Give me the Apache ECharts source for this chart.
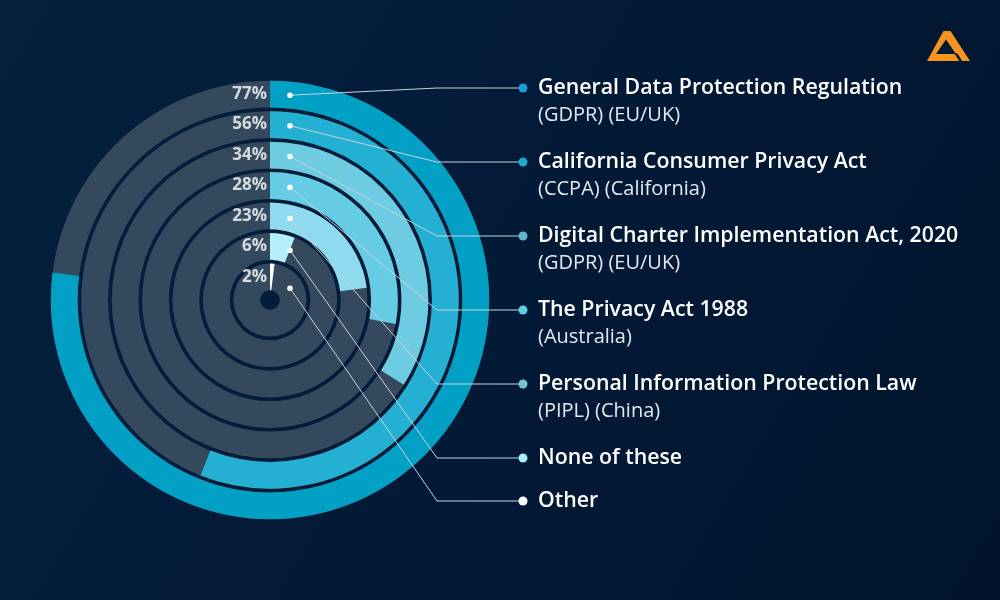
<!DOCTYPE html>
<html><head><meta charset="utf-8">
<script src="https://cdn.jsdelivr.net/npm/echarts@6/dist/echarts.min.js"></script>
<style>html,body{margin:0;padding:0;background:#041a33}#c{width:1000px;height:600px}</style>
</head><body><div id="c"></div>
<script>
// rings, innermost first
const categories = ['Other', 'None of these', 'Personal Information Protection Law', 'The Privacy Act 1988', 'Digital Charter Implementation Act, 2020', 'California Consumer Privacy Act', 'General Data Protection Regulation'];
const subtitles = ['', '', '(PIPL) (China)', '(Australia)', '(GDPR) (EU/UK)', '(CCPA) (California)', '(GDPR) (EU/UK)'];
const values = [2, 6, 23, 28, 34, 56, 77];
const barColors = ['#ffffff', '#b6eefa', '#8fdaee', '#66cce5', '#6dcbe2', '#23b0d2', '#03a0c6'];
const dotColors = ['#ffffff', '#a9ecfa', '#74c2d6', '#5ccde6', '#5fb5cc', '#20a8cf', '#1a9ee0'];

const FONT = 'Open Sans';
const chart = echarts.init(document.getElementById('c'), null, {renderer: 'canvas'});
const CX = 270, CY = 300;
chart.setOption({
  animation: false,
  backgroundColor: {type: 'linear', x: 0, y: 0, x2: 1, y2: 1,
    colorStops: [{offset: 0, color: '#04213e'}, {offset: 0.5, color: '#031a37'}, {offset: 1, color: '#01142c'}]},
  polar: {center: [CX, CY], radius: [8, 221]},
  angleAxis: {type: 'value', min: 0, max: 100, startAngle: 90, clockwise: true, show: false},
  radiusAxis: {type: 'category', data: categories, show: false},
  series: [
    {
      type: 'bar', coordinateSystem: 'polar', barCategoryGap: '12%',
      data: values.map((v, i) => ({value: v, itemStyle: {color: barColors[i]}})),
      showBackground: true, backgroundStyle: {color: '#34495e'}, z: 2
    },
    {
      type: 'scatter', coordinateSystem: 'polar', symbolSize: 0,
      data: values.map((v, i) => [i, 0]),
      label: {show: true, position: 'left', distance: 3, color: '#ffffff', fontSize: 17, fontWeight: 'bold', fontFamily: FONT,
        formatter: p => values[p.dataIndex] + '%'},
      z: 5
    }
  ]
});

// annotations: leader lines + legend text
const g = [];
let ly = 88;
const legendYs = [];
for (let i = categories.length - 1; i >= 0; i--) {
  legendYs[i] = ly;
  ly += subtitles[i] ? 74 : 43;
}
for (let i = 0; i < categories.length; i++) {
  const top = chart.convertToPixel({seriesIndex: 1}, [i, 0]);
  const r = CY - top[1];
  const dx = 20;
  const dy = Math.sqrt(Math.max(r * r - dx * dx, 0));
  const px = CX + dx, py = CY - dy;
  const y = legendYs[i];
  g.push({type: 'polyline', z: 20, shape: {points: [[px, py], [437, y], [519, y]]},
    style: {stroke: '#c9d2db', lineWidth: 1, fill: null}});
  g.push({type: 'circle', z: 21, shape: {cx: px, cy: py, r: 2.8}, style: {fill: '#ffffff'}});
  g.push({type: 'circle', z: 21, shape: {cx: 523, cy: y, r: 4.5}, style: {fill: dotColors[i]}});
  g.push({type: 'text', z: 21, x: 538, y: y, style: {text: categories[i], fill: '#ffffff', font: '600 21.3px "' + FONT + '"', textVerticalAlign: 'middle'}});
  if (subtitles[i]) {
    g.push({type: 'text', z: 21, x: 538, y: y + 27, style: {text: subtitles[i], fill: '#e4e9ef', font: '400 20px "' + FONT + '"', textVerticalAlign: 'middle'}});
  }
}
// logo
const ORANGE = '#f7941d', LOGO_BG = '#031a36';
g.push({type: 'polygon', z: 20, shape: {points: [[943.5, 31], [950.5, 31], [970, 61], [927, 61]]}, style: {fill: ORANGE}});
g.push({type: 'polygon', z: 21, shape: {points: [[946, 39.5], [956, 54], [936, 54]]}, style: {fill: LOGO_BG}});
g.push({type: 'polygon', z: 21, shape: {points: [[954.5, 53.5], [957.5, 53.5], [962.5, 61.5], [959.5, 61.5]]}, style: {fill: LOGO_BG}});
chart.setOption({graphic: {elements: g}});
</script>
</body></html>
